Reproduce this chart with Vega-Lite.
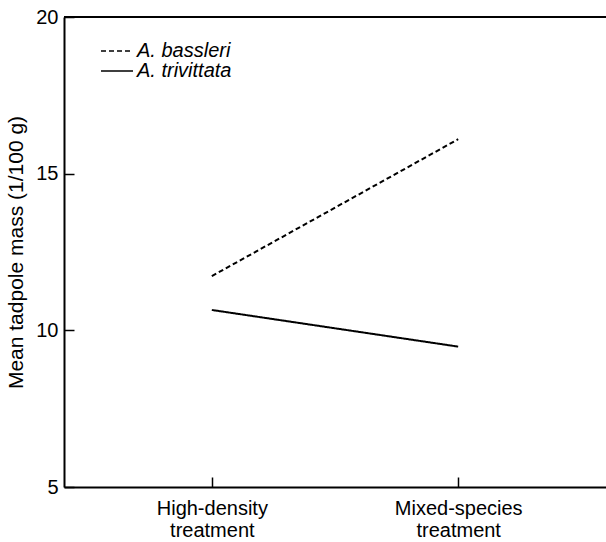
{
  "$schema": "https://vega.github.io/schema/vega-lite/v6.json",
  "width": 542,
  "height": 470,
  "autosize": {"type": "none"},
  "padding": {"left": 64, "top": 17, "right": 0, "bottom": 55},
  "background": "white",
  "config": {
    "font": "Liberation Sans",
    "view": {"stroke": null},
    "axis": {"grid": false, "domainColor": "black", "tickColor": "black", "labelColor": "black", "titleColor": "black", "labelFont": "Liberation Sans", "titleFont": "Liberation Sans", "labelFontSize": 20, "titleFontSize": 21, "titleFontWeight": "normal", "domainWidth": 2, "tickWidth": 1.5}
  },
  "data": {
    "values": [
      {"treatment": "High-density treatment", "species": "A. bassleri", "mass": 11.73},
      {"treatment": "Mixed-species treatment", "species": "A. bassleri", "mass": 16.1},
      {"treatment": "High-density treatment", "species": "A. trivittata", "mass": 10.65},
      {"treatment": "Mixed-species treatment", "species": "A. trivittata", "mass": 9.48}
    ]
  },
  "layer": [
    {
      "mark": {"type": "rule", "color": "black", "strokeWidth": 1.5},
      "encoding": {"y": {"datum": 20}}
    },
    {
      "mark": {"type": "line", "color": "black", "strokeWidth": 2},
      "encoding": {
        "x": {
          "field": "treatment", "type": "nominal",
          "scale": {"type": "point", "padding": 0.6},
          "axis": {"title": null, "labelAngle": 0, "tickSize": -10, "labelPadding": 21, "labelExpr": "split(datum.label, ' ')", "labelLineHeight": 22, "labelBaseline": "top"}
        },
        "y": {
          "field": "mass", "type": "quantitative",
          "scale": {"domain": [5, 20], "nice": false, "zero": false},
          "axis": {"title": "Mean tadpole mass (1/100 g)", "values": [5, 10, 15, 20], "tickSize": -10, "labelPadding": 16, "titlePadding": 9}
        },
        "strokeDash": {
          "field": "species", "type": "nominal",
          "scale": {"domain": ["A. bassleri", "A. trivittata"], "range": [[5, 3], [1, 0]]},
          "legend": {"title": null, "orient": "none", "legendX": 36, "legendY": 17, "padding": 0, "gridAlign": "none", "symbolType": "stroke", "symbolSize": 1024, "symbolStrokeWidth": 1.5, "symbolStrokeColor": "black", "labelFontSize": 20, "labelFontStyle": "italic", "labelColor": "black", "labelOffset": 3, "rowPadding": -7}
        }
      }
    }
  ]
}
